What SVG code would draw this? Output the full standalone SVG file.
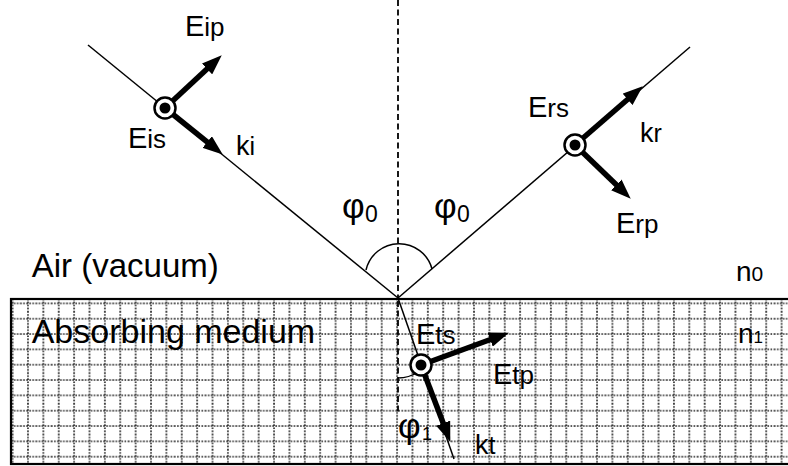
<svg xmlns="http://www.w3.org/2000/svg" width="788" height="466" viewBox="0 0 788 466">
  <style>
    .t { font-family: "Liberation Sans", Arial, sans-serif; fill: #000; }
    .thin { stroke: #000; stroke-width: 1.5; fill: none; }
    .dash { stroke: #000; stroke-width: 1.8; stroke-dasharray: 6 3.5; fill: none; }
    .arr { stroke: #000; stroke-width: 5.5; fill: none; marker-end: url(#ah); }
    .ring { fill: #fff; stroke: #000; stroke-width: 2.5; }
    .dot { fill: #000; }
  </style>
  <defs>
    <pattern id="grid" patternUnits="userSpaceOnUse" x="4.91" y="295.74" width="15.38" height="15.33">
      <path d="M7.69,0 V15.33 M0,7.665 H15.38" stroke="#1a1a1a" stroke-width="1.6" stroke-dasharray="1.6 1.4" fill="none"/>
    </pattern>
    <marker id="ah" markerUnits="userSpaceOnUse" viewBox="0 0 20 15" markerWidth="20" markerHeight="15" refX="9" refY="7.5" orient="auto">
      <path d="M0,0 L20,7.5 L0,15 Z" fill="#000"/>
    </marker>
  </defs>

  <g id="medium">
    <rect x="11" y="299" width="790" height="165" fill="#fff"/>
    <rect x="11" y="299" width="790" height="165" fill="url(#grid)"/>
    <rect x="11" y="299" width="790" height="165" fill="none" stroke="#000" stroke-width="2.2"/>
  </g>

  <g id="labels-media">
    <text class="t" x="31.7" y="277.3" font-size="33">Air (vacuum)</text>
    <text class="t" x="31.7" y="342.7" font-size="34">Absorbing medium</text>
    <text class="t" x="736" y="281" font-size="28">n<tspan font-size="21">0</tspan></text>
    <text class="t" x="738" y="342.7" font-size="28">n<tspan font-size="17">1</tspan></text>
  </g>

  <g id="angles">
    <path class="dash" d="M398,0 V298 M398,301 V414"/>
    <path class="thin" d="M366,270 A34,34 0 0 1 432,269"/>
    <path class="thin" d="M398,378 Q409,378 418,372"/>
    <text class="t" x="342" y="218" font-size="35">φ</text>
    <text class="t" x="365" y="222" font-size="23">0</text>
    <text class="t" x="434" y="218" font-size="35">φ</text>
    <text class="t" x="457" y="222" font-size="23">0</text>
    <text class="t" x="398" y="438" font-size="35">φ</text>
    <text class="t" x="422" y="440" font-size="18">1</text>
  </g>

  <g id="connectors">
    <line class="thin" x1="88" y1="45" x2="398" y2="298"/>
    <line class="thin" x1="398" y1="298" x2="690" y2="47"/>
    <line class="thin" x1="398" y1="298" x2="454" y2="459"/>
    <line class="arr" x1="165" y1="108" x2="213.7" y2="62.8"/>
    <line class="arr" x1="165" y1="108" x2="214.2" y2="147.7"/>
    <line class="arr" x1="575" y1="145" x2="634.4" y2="93.5"/>
    <line class="arr" x1="575" y1="145" x2="622.8" y2="191.1"/>
    <line class="arr" x1="421" y1="365" x2="498.6" y2="336.5"/>
    <line class="arr" x1="421" y1="365" x2="446.4" y2="431.6"/>
  </g>

  <g id="incident">
    <circle class="ring" cx="165" cy="108" r="10.5"/>
    <circle class="dot" cx="165" cy="108" r="5.5"/>
    <text class="t" x="185" y="36" font-size="29">E<tspan font-size="26">ip</tspan></text>
    <text class="t" x="128" y="148" font-size="29">E<tspan font-size="26">is</tspan></text>
    <text class="t" x="236" y="155" font-size="27">k<tspan font-size="25">i</tspan></text>
  </g>

  <g id="reflected">
    <circle class="ring" cx="575" cy="145" r="10.5"/>
    <circle class="dot" cx="575" cy="145" r="5.5"/>
    <text class="t" x="528" y="117" font-size="29">E<tspan font-size="26">rs</tspan></text>
    <text class="t" x="640" y="142" font-size="27">k<tspan font-size="25">r</tspan></text>
    <text class="t" x="616" y="232.5" font-size="29">E<tspan font-size="26">rp</tspan></text>
  </g>

  <g id="transmitted">
    <circle class="ring" cx="421" cy="365" r="10.5"/>
    <circle class="dot" cx="421" cy="365" r="5.5"/>
    <text class="t" x="416" y="344" font-size="29">E<tspan font-size="26">ts</tspan></text>
    <text class="t" x="493" y="384" font-size="29">E<tspan font-size="26">tp</tspan></text>
    <text class="t" x="475" y="454" font-size="27">k<tspan font-size="25">t</tspan></text>
  </g>
</svg>
